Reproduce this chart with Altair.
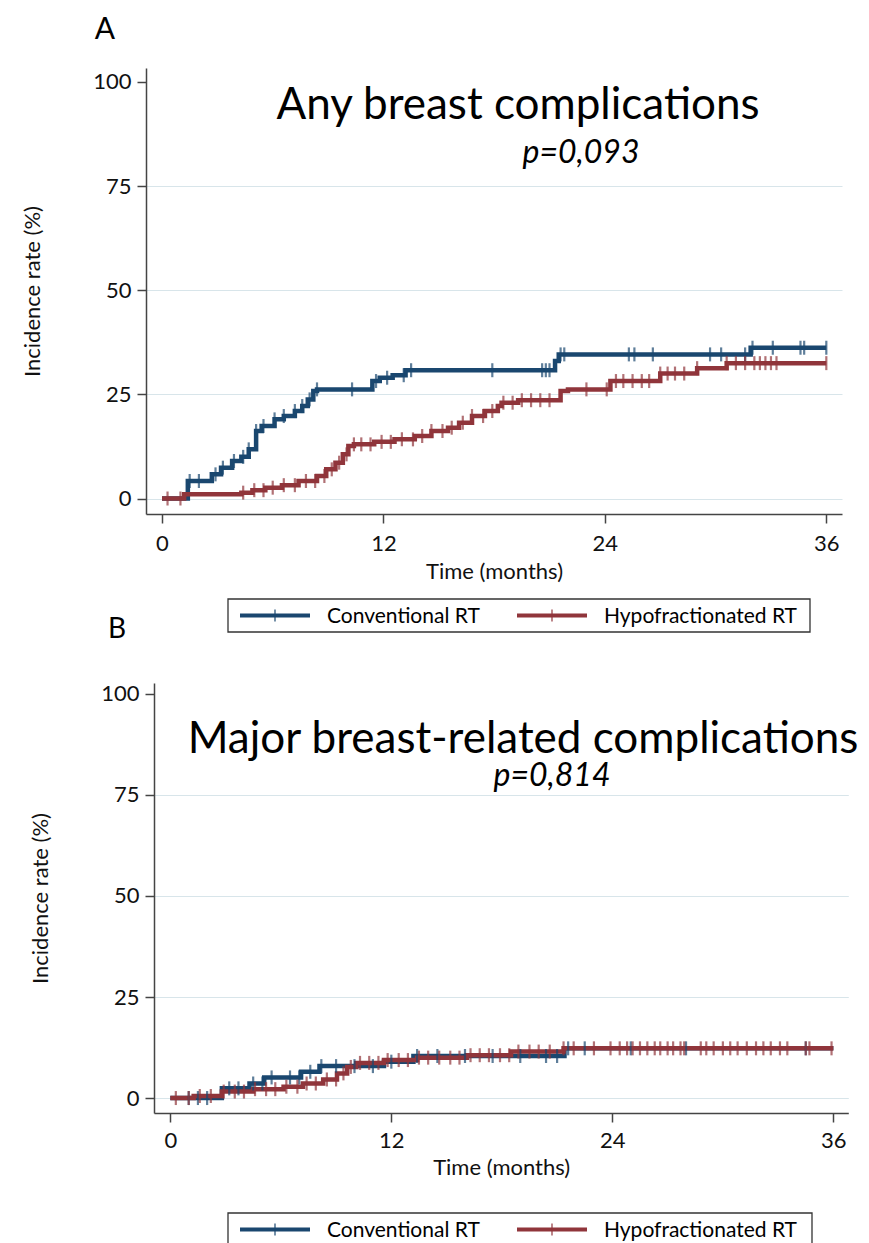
import altair as alt
import pandas as pd

GROUPS = ["Conventional RT", "Hypofractionated RT"]
COLORS = ["#1a476f", "#90353b"]

# ---------- Panel A: Any breast complications ----------
a_conv_t = [0, 1.4, 2.7, 3.2, 3.8, 4.3, 4.7, 5.1, 5.4, 6.1, 6.6, 7.2, 7.6, 7.9, 8.2, 8.4,
            11.4, 11.8, 12.5, 13.2, 21.3, 21.5, 31.9, 36.0]
a_conv_v = [0, 4.2, 5.8, 7.4, 9.0, 10.0, 11.8, 16.2, 17.4, 19.0, 19.8, 21.0, 22.2, 23.8, 25.8, 26.2,
            28.2, 29.0, 29.6, 30.8, 33.0, 34.6, 36.2, 36.2]
a_hypo_t = [0, 1.2, 4.3, 4.9, 5.6, 6.5, 7.4, 8.4, 8.9, 9.4, 9.8, 10.1, 10.4, 11.5, 12.6, 13.7,
            14.6, 15.5, 16.1, 16.8, 17.5, 18.2, 18.4, 19.3, 21.6, 22.0, 24.3, 27.0, 29.0, 30.6, 36.0]
a_hypo_v = [0, 1.0, 1.4, 2.0, 2.6, 3.2, 4.2, 5.4, 7.0, 8.6, 10.6, 12.6, 13.0, 13.6, 14.2, 15.0,
            16.2, 17.0, 18.2, 19.8, 21.0, 22.2, 23.0, 23.6, 25.8, 26.2, 28.2, 30.0, 31.3, 32.5, 32.5]
a_conv_cens = [1.5, 2.0, 2.9, 3.3, 3.9, 4.4, 4.7, 5.1, 5.5, 6.1, 6.6, 7.2, 7.6, 8.0, 8.4, 10.3,
               11.6, 12.2, 13.1, 13.5, 17.9, 20.6, 20.8, 21.0, 21.6, 21.8, 25.3, 25.6, 26.6,
               29.7, 30.3, 31.6, 32.0, 33.1, 34.6, 34.8, 36.0]
a_hypo_cens = [0.3, 1.0, 4.4, 5.0, 5.5, 6.0, 6.6, 7.2, 7.8, 8.3, 8.8, 9.2, 9.6, 10.0, 10.4, 10.8,
               11.3, 11.9, 12.4, 13.0, 13.6, 14.1, 14.6, 15.2, 15.7, 16.3, 16.8, 17.4, 17.9, 18.5,
               19.0, 19.5, 20.0, 20.5, 21.0, 23.0, 24.1, 24.6, 25.0, 25.5, 26.0, 26.4, 27.0, 27.4,
               27.8, 28.3, 29.0, 30.6, 31.1, 31.6, 32.1, 32.4, 32.7, 33.0, 33.3, 36.0]

# ---------- Panel B: Major breast-related complications ----------
b_conv_t = [0, 2.8, 4.3, 5.1, 7.1, 8.1, 11.6, 13.2, 21.4, 36.0]
b_conv_v = [0, 2.4, 3.6, 5.1, 6.5, 7.9, 9.0, 10.4, 12.3, 12.3]
b_hypo_t = [0, 1.27, 2.8, 4.5, 6.15, 7.2, 8.3, 9.05, 9.6, 10.1, 11.6, 13.4, 16.1, 18.5, 21.35, 36.0]
b_hypo_v = [0, 0.5, 1.6, 2.2, 2.8, 3.6, 4.6, 6.1, 7.7, 8.7, 9.4, 10.0, 10.6, 11.5, 12.3, 12.3]
b_conv_cens = [1.0, 1.5, 2.0, 3.2, 3.7, 4.5, 5.0, 5.5, 6.5, 7.0, 7.6, 8.2, 9.0, 10.0, 11.0, 12.0,
               13.4, 14.5, 16.0, 17.5, 19.0, 20.4, 21.0, 21.6, 22.5, 25.0, 28.0, 34.5]
b_hypo_cens = [0.3, 1.0, 1.6, 2.2, 2.9, 3.5, 4.0, 4.6, 5.2, 5.7, 6.3, 6.9, 7.4, 7.9, 8.5, 9.0,
               9.4, 9.8, 10.3, 10.8, 11.3, 11.8, 12.4, 12.9, 13.5, 14.0, 14.6, 15.2, 15.7, 16.3,
               16.8, 17.3, 17.9, 18.4, 18.9, 19.5, 20.0, 20.6, 21.35, 21.9, 23.0, 23.9, 24.4, 24.8,
               25.1, 25.5, 25.9, 26.3, 26.6, 27.0, 27.3, 27.7, 27.9, 28.8, 29.1, 29.5, 30.0, 30.4,
               30.8, 31.3, 31.8, 32.2, 32.6, 33.1, 33.5, 34.5, 34.7, 35.9]

FONT = "Lato"
ONE = pd.DataFrame({"k": [0]})


def step_value(ts, vs, t):
    val = vs[0]
    for ti, vi in zip(ts, vs):
        if ti <= t:
            val = vi
    return val


def build_frames(conv_t, conv_v, hypo_t, hypo_v, conv_c, hypo_c):
    lines = pd.DataFrame(
        {"t": conv_t + hypo_t, "v": conv_v + hypo_v,
         "group": [GROUPS[0]] * len(conv_t) + [GROUPS[1]] * len(hypo_t)})
    cens = pd.DataFrame(
        {"t": conv_c + hypo_c,
         "v": [step_value(conv_t, conv_v, c) for c in conv_c] + [step_value(hypo_t, hypo_v, c) for c in hypo_c],
         "group": [GROUPS[0]] * len(conv_c) + [GROUPS[1]] * len(hypo_c)})
    return lines, cens


def text_layer(label, x, y, size, style="normal", align="center"):
    return alt.Chart(pd.DataFrame({"label": [label]})).mark_text(
        font=FONT, fontSize=size, fontStyle=style, align=align, baseline="alphabetic", color="black"
    ).encode(x=alt.value(x), y=alt.value(y), text="label:N")


def legend_layers(bx, by, bw, bh):
    """Stata-style boxed legend below the panel."""
    layers = [
        alt.Chart(ONE).mark_rect(fill="white", stroke="#333", strokeWidth=1.3).encode(
            x=alt.value(bx), x2=alt.value(bx + bw), y=alt.value(by), y2=alt.value(by + bh))
    ]
    cy = by + bh / 2
    offsets = [12, 289]
    for name, col, off in zip(GROUPS, COLORS, offsets):
        sx = bx + off
        layers.append(alt.Chart(ONE).mark_rule(color=col, strokeWidth=4).encode(
            x=alt.value(sx), x2=alt.value(sx + 70), y=alt.value(cy)))
        layers.append(alt.Chart(ONE).mark_rule(color=col, strokeWidth=1.2).encode(
            x=alt.value(sx + 35), y=alt.value(cy - 6), y2=alt.value(cy + 6)))
        layers.append(alt.Chart(pd.DataFrame({"label": [name]})).mark_text(
            font=FONT, fontSize=21, align="left", baseline="middle", color="black").encode(
            x=alt.value(sx + 87), y=alt.value(cy + 1), text="label:N"))
    return layers


def panel(lines, cens, xdom, xrange, ydom, w, h, yoff, legend_box, texts, x_lab_pad, x_title_pad):
    color = alt.Color("group:N", scale=alt.Scale(domain=GROUPS, range=COLORS), legend=None)
    x = alt.X(
        "t:Q",
        scale=alt.Scale(domain=xdom, range=xrange, nice=False, zero=False),
        axis=alt.Axis(values=[0, 12, 24, 36], title="Time (months)", grid=False,
                      labelPadding=x_lab_pad, titlePadding=x_title_pad),
    )
    y = alt.Y(
        "v:Q",
        scale=alt.Scale(domain=ydom, nice=False, zero=False),
        axis=alt.Axis(values=[0, 25, 50, 75, 100], title="Incidence rate (%)", grid=True,
                      gridOpacity=alt.condition("datum.value === 100", alt.value(0), alt.value(1)),
                      labelPadding=6, titlePadding=48, offset=yoff),
    )
    line = alt.Chart(lines).mark_line(interpolate="step-after", strokeWidth=4.5).encode(
        x=x, y=y, color=color)
    ticks = alt.Chart(cens).mark_tick(orient="vertical", size=14, thickness=2.2).encode(
        x=x, y=y, color=color)
    # invisible element that fixes the panel's left extent (horizontal placement)
    spacer = alt.Chart(ONE).mark_rule(opacity=0, strokeOpacity=0).encode(
        x=alt.value(-140), x2=alt.value(-135), y=alt.value(200))
    layers = [spacer, line, ticks] + [text_layer(*t) for t in texts] + legend_layers(*legend_box)
    return alt.layer(*layers).properties(width=w, height=h)


la, ca = build_frames(a_conv_t, a_conv_v, a_hypo_t, a_hypo_v, a_conv_cens, a_hypo_cens)
lb, cb = build_frames(b_conv_t, b_conv_v, b_hypo_t, b_hypo_v, b_conv_cens, b_hypo_cens)

panel_a = panel(
    la, ca, [-0.867, 36.85], [0, 696], [-3.72, 103.36], 696, 446, 0, (82, 531, 582, 33),
    [("A", -41, -29, 30), ("Any breast complications", 372, 51, 44),
     ("p=0,093", 435, 95, 32, "italic"), ("B", -29, 570, 28)],
    10, 7,
)
panel_b = panel(
    lb, cb, [-0.885, 36.81], [8, 702.3], [-3.7, 102.7], 702.3, 430, -8, (82, 530, 584, 33),
    [("Major breast-related complications", 377, 70, 44),
     ("p=0,814", 406, 103, 32, "italic")],
    8, 6,
)

chart = alt.vconcat(panel_a, panel_b, spacing=38).properties(
    padding={"left": 6, "top": 15, "right": 0, "bottom": 0}
).configure(background="white").configure_view(stroke=None).configure_axis(
    domainColor="#444", domainWidth=1.5, tickColor="#444", tickWidth=1.5, tickSize=9,
    labelFont=FONT, labelFontSize=22, labelColor="#111", titleFont=FONT, titleFontSize=22,
    titleFontWeight="normal", titleColor="#111", gridColor="#d8e5ea", gridWidth=1,
)

chart.save("out.html", embed_options={"renderer": "svg", "actions": False})
